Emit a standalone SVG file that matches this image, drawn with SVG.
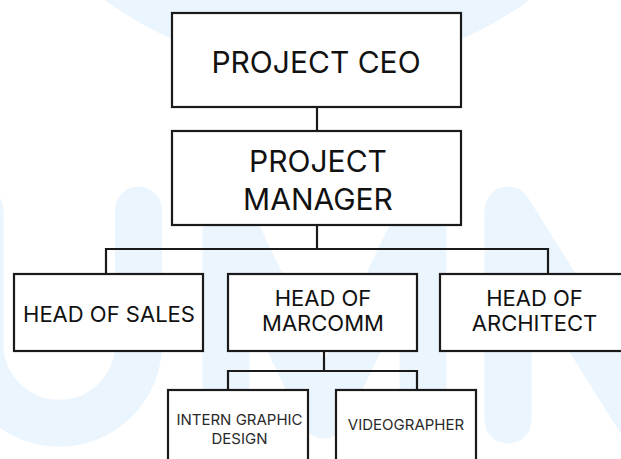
<svg xmlns="http://www.w3.org/2000/svg" width="621" height="459" viewBox="0 0 621 459">
<defs>
<style>
.wm{fill:none;stroke:#EBF5FE;stroke-width:47;stroke-linecap:round;stroke-linejoin:round}
.box{fill:#FFFFFF;stroke:#1A1A1A;stroke-width:2.2}
.con{fill:none;stroke:#1A1A1A;stroke-width:2.2}
text{font-family:Inter,"Liberation Sans",Arial,sans-serif;fill:#111111;text-anchor:middle}
.t1{font-size:30px}
.t2{font-size:22px}
.t3{font-size:15px;fill:#2A2A2A}
</style>
</defs>
<rect x="0" y="0" width="621" height="459" fill="#FFFFFF"/>
<g id="watermark">
<circle cx="317" cy="-287" r="357" fill="#EBF5FE"/>
<path class="wm" d="M -20 210 V 344 A 79.25 79.25 0 0 0 138.5 344 V 210"/>
<path class="wm" d="M 226 420 V 210 L 324 415 L 423 210 V 420"/>
<path class="wm" d="M 508 420 V 210 L 665 460"/>
</g>
<g id="connectors">
<line class="con" x1="317" y1="107" x2="317" y2="131"/>
<line class="con" x1="317" y1="225" x2="317" y2="249"/>
<polyline class="con" points="106,274 106,249 548,249 548,274"/>
<line class="con" x1="324" y1="352" x2="324" y2="371"/>
<polyline class="con" points="228,390 228,371 417,371 417,390"/>
</g>
<g id="ceo">
<rect class="box" x="172" y="13" width="289" height="94"/>
<text class="t1" x="316" y="73">PROJECT CEO</text>
</g>
<g id="manager">
<rect class="box" x="172" y="131" width="289" height="94"/>
<text class="t1" x="318" y="172">PROJECT</text>
<text class="t1" x="318" y="210">MANAGER</text>
</g>
<g id="sales">
<rect class="box" x="14" y="274" width="189" height="77"/>
<text class="t2" x="109" y="322">HEAD OF SALES</text>
</g>
<g id="marcomm">
<rect class="box" x="228" y="274" width="189" height="77"/>
<text class="t2" x="323" y="306">HEAD OF</text>
<text class="t2" x="323" y="331">MARCOMM</text>
</g>
<g id="architect">
<rect class="box" x="440" y="274" width="195" height="77"/>
<text class="t2" x="534.5" y="306">HEAD OF</text>
<text class="t2" x="534.5" y="331">ARCHITECT</text>
</g>
<g id="intern">
<rect class="box" x="168" y="390" width="140" height="100"/>
<text class="t3" x="239.5" y="425">INTERN GRAPHIC</text>
<text class="t3" x="239.5" y="444">DESIGN</text>
</g>
<g id="videographer">
<rect class="box" x="336" y="390" width="140" height="100"/>
<text class="t3" x="406" y="430">VIDEOGRAPHER</text>
</g>
</svg>
